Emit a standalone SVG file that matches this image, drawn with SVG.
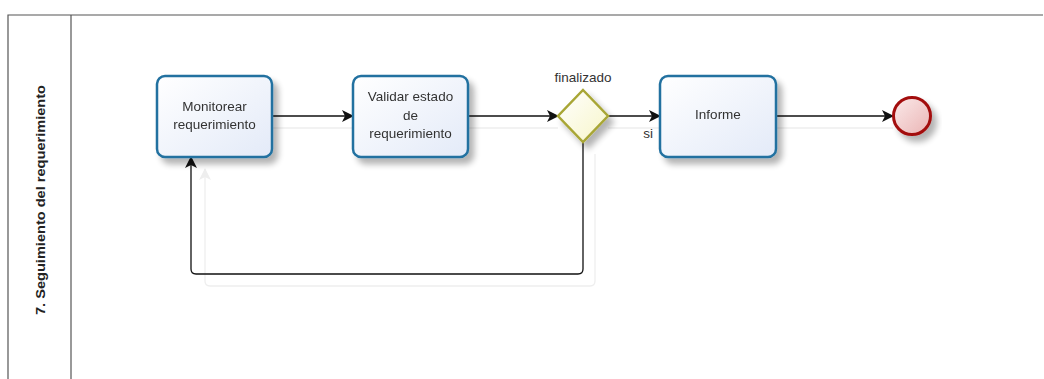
<svg xmlns="http://www.w3.org/2000/svg" width="1044" height="379" viewBox="0 0 1044 379">
<style>
.task{fill:url(#taskGrad);stroke:#2271a0;stroke-width:2.5}
.lbl{font-family:"Liberation Sans",Arial,sans-serif;font-size:13.5px;fill:#333;text-anchor:middle}
.flow{fill:none;stroke:#111;stroke-width:1.3}
.shadowline{fill:none;stroke:#eeeeee;stroke-width:1.3}
.pool{fill:none;stroke:#555;stroke-width:1.2}
</style>
<defs>
<linearGradient id="taskGrad" x1="0" y1="0" x2="1" y2="1">
<stop offset="0" stop-color="#ffffff"/>
<stop offset="1" stop-color="#e3eaf8"/>
</linearGradient>
<linearGradient id="gwGrad" x1="0" y1="0" x2="1" y2="1">
<stop offset="0" stop-color="#ffffff"/>
<stop offset="1" stop-color="#f7f5c8"/>
</linearGradient>
<linearGradient id="endGrad" x1="0" y1="0" x2="1" y2="1">
<stop offset="0" stop-color="#fbeaea"/>
<stop offset="1" stop-color="#eab4b4"/>
</linearGradient>
<filter id="sh" x="-20%" y="-20%" width="150%" height="160%">
<feGaussianBlur in="SourceAlpha" stdDeviation="3"/>
<feOffset dx="5" dy="6" result="b"/>
<feComponentTransfer><feFuncA type="linear" slope="0.3"/></feComponentTransfer>
<feMerge><feMergeNode/><feMergeNode in="SourceGraphic"/></feMerge>
</filter>
<marker id="arr" markerWidth="12" markerHeight="12" refX="11" refY="6" orient="auto" markerUnits="userSpaceOnUse">
<path d="M0,0 L12,6 L0,12 L3,6 Z" fill="#111"/>
</marker>
<marker id="arrS" markerWidth="12" markerHeight="12" refX="11" refY="6" orient="auto" markerUnits="userSpaceOnUse">
<path d="M0,0 L12,6 L0,12 L3,6 Z" fill="#eeeeee"/>
</marker>
</defs>
<rect x="0" y="0" width="1044" height="379" fill="#ffffff"/>
<g id="pool">
<path class="pool" d="M8,379 L8,15 L1043,15"/>
<line class="pool" x1="71" y1="15" x2="71" y2="379"/>
<text transform="translate(45,200) rotate(-90)" font-family="Liberation Sans, Arial, sans-serif" font-size="13" font-weight="bold" fill="#222" text-anchor="middle" textLength="230" lengthAdjust="spacingAndGlyphs">7. Seguimiento del  requerimiento</text>
</g>
<g id="connectors-shadow">
<path class="shadowline" d="M272,128 L353,128"/>
<path class="shadowline" d="M468,128 L558,128"/>
<path class="shadowline" d="M608,128 L660,128"/>
<path class="shadowline" d="M776,128 L893,128"/>
<path class="shadowline" d="M595,154 L595,281 Q595,286 590,286 L210,286 Q205,286 205,281 L205,169" marker-end="url(#arrS)"/>
</g>
<g id="connectors">
<path class="flow" d="M272,116 L353,116" marker-end="url(#arr)"/>
<path class="flow" d="M468,116 L558,116" marker-end="url(#arr)"/>
<path class="flow" d="M608,116 L660,116" marker-end="url(#arr)"/>
<path class="flow" d="M776,116 L893,116" marker-end="url(#arr)"/>
<path class="flow" d="M583,142 L583,269 Q583,274 578,274 L196,274 Q191,274 191,269 L191,157" marker-end="url(#arr)"/>
<text class="lbl" x="648" y="138">si</text>
</g>
<g id="monitorear" filter="url(#sh)">
<rect class="task" x="157" y="76" width="115" height="81" rx="8"/>
<text class="lbl" x="214.5" y="111">Monitorear</text>
<text class="lbl" x="214.5" y="129">requerimiento</text>
</g>
<g id="validar" filter="url(#sh)">
<rect class="task" x="353" y="76" width="115" height="81" rx="8"/>
<text class="lbl" x="410.5" y="101">Validar estado</text>
<text class="lbl" x="410.5" y="120">de</text>
<text class="lbl" x="410.5" y="138">requerimiento</text>
</g>
<g id="gateway">
<polygon points="583,90 608,116 583,142 558,116" fill="url(#gwGrad)" stroke="#a8a636" stroke-width="2.5" filter="url(#sh)"/>
<text class="lbl" x="583" y="82">finalizado</text>
</g>
<g id="informe" filter="url(#sh)">
<rect class="task" x="660" y="76" width="116" height="81" rx="8"/>
<text class="lbl" x="718" y="119">Informe</text>
</g>
<g id="end">
<circle cx="912" cy="116" r="18.5" fill="url(#endGrad)" stroke="#a30d0d" stroke-width="3" filter="url(#sh)"/>
</g>
</svg>
